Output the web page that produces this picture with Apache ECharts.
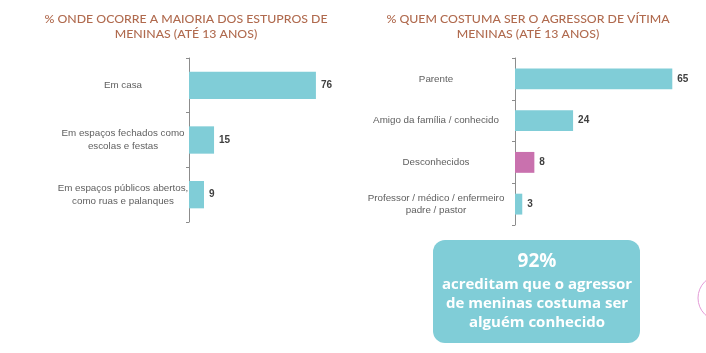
<!DOCTYPE html>
<html>
<head>
<meta charset="utf-8">
<script src="https://cdn.jsdelivr.net/npm/echarts@6/dist/echarts.min.js"></script>
<style>
html,body{margin:0;padding:0;background:#fff;}
#chart{width:706px;height:353px;}
</style>
</head>
<body>
<div id="chart"></div>
<script>
const leftTitle = '% ONDE OCORRE A MAIORIA DOS ESTUPROS DE\nMENINAS (ATÉ 13 ANOS)';
const leftCategories = ['Em casa', 'Em espaços fechados como\nescolas e festas', 'Em espaços públicos abertos,\ncomo ruas e palanques'];
const leftValues = [76, 15, 9];

const rightTitle = '% QUEM COSTUMA SER O AGRESSOR DE VÍTIMA\nMENINAS (ATÉ 13 ANOS)';
const rightCategories = ['Parente', 'Amigo da família / conhecido', 'Desconhecidos', 'Professor / médico / enfermeiro\npadre / pastor'];
const rightValues = [65, 24, 8, 3];
const rightHighlightIndex = 2;

const calloutBig = '92%';
const calloutText = 'acreditam que o agressor\nde meninas costuma ser\nalguém conhecido';

const TEAL = '#80CDD7';
const PINK = '#C971AE';
const TITLE_COLOR = '#B06A4E';

const chart = echarts.init(document.getElementById('chart'));

const catAxisCommon = {
  type: 'category',
  inverse: true,
  axisLine: { show: true, lineStyle: { color: '#8c8c8c', width: 1 } },
  axisTick: { show: true, length: 3, lineStyle: { color: '#8c8c8c' } },
  splitLine: { show: false }
};

const labelCommon = {
  show: true,
  position: 'right',
  distance: 5,
  fontFamily: 'Liberation Sans, Arial, sans-serif',
  fontSize: 10,
  fontWeight: 'bold',
  color: '#404040'
};

chart.setOption({
  animation: false,
  grid: [
    { left: 189, top: 58, width: 167, height: 164, outerBoundsMode: 'none', containLabel: false },
    { left: 515, top: 58, width: 242, height: 167, outerBoundsMode: 'none', containLabel: false }
  ],
  xAxis: [
    { type: 'value', gridIndex: 0, min: 0, max: 100, show: false },
    { type: 'value', gridIndex: 1, min: 0, max: 100, show: false }
  ],
  yAxis: [
    Object.assign({}, catAxisCommon, {
      gridIndex: 0,
      data: leftCategories,
      axisLabel: { align: 'center', margin: 66, fontFamily: 'Liberation Sans, Arial, sans-serif', fontSize: 9.8, lineHeight: 12.5, color: '#606060' }
    }),
    Object.assign({}, catAxisCommon, {
      gridIndex: 1,
      data: rightCategories,
      axisLabel: { align: 'center', margin: 79, fontFamily: 'Liberation Sans, Arial, sans-serif', fontSize: 9.8, lineHeight: 12.5, color: '#606060' }
    })
  ],
  series: [
    {
      type: 'bar', xAxisIndex: 0, yAxisIndex: 0,
      data: leftValues, barWidth: '50%',
      itemStyle: { color: TEAL },
      label: labelCommon
    },
    {
      type: 'bar', xAxisIndex: 1, yAxisIndex: 1,
      data: rightValues, barWidth: '50%',
      itemStyle: { color: function (p) { return p.dataIndex === rightHighlightIndex ? PINK : TEAL; } },
      label: labelCommon
    }
  ],
  graphic: [
    {
      type: 'text', x: 186, y: 27,
      style: { text: leftTitle, textAlign: 'center', textVerticalAlign: 'middle', fill: TITLE_COLOR, font: '500 12.3px Lato, sans-serif', lineHeight: 15 }
    },
    {
      type: 'text', x: 528, y: 27,
      style: { text: rightTitle, textAlign: 'center', textVerticalAlign: 'middle', fill: TITLE_COLOR, font: '500 12.3px Lato, sans-serif', lineHeight: 15 }
    },
    {
      type: 'rect',
      shape: { x: 433, y: 240, width: 207, height: 103, r: 12 },
      style: { fill: TEAL }
    },
    {
      type: 'text', x: 537, y: 262,
      style: { text: calloutBig, textAlign: 'center', textVerticalAlign: 'middle', fill: '#ffffff', font: 'bold 19px "Open Sans", sans-serif' }
    },
    {
      type: 'text', x: 537, y: 304,
      style: { text: calloutText, textAlign: 'center', textVerticalAlign: 'middle', fill: '#ffffff', font: 'bold 15px "Open Sans", sans-serif', lineHeight: 19 }
    },
    {
      type: 'circle',
      shape: { cx: 721, cy: 298, r: 23 },
      style: { fill: 'none', stroke: '#E39BD6', lineWidth: 1 }
    }
  ]
});
</script>
</body>
</html>
